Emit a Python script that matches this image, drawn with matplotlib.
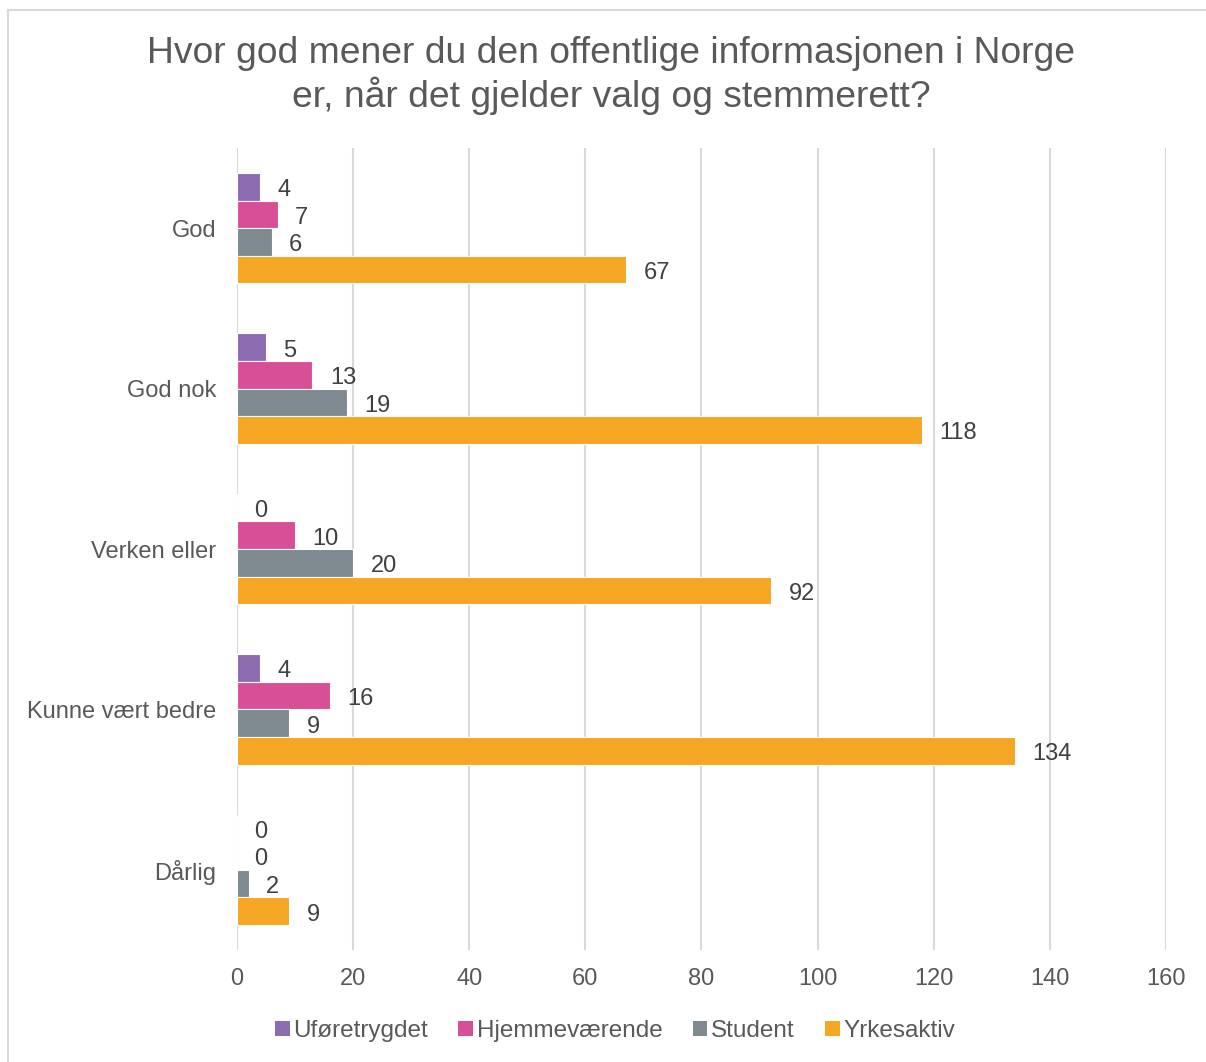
import matplotlib
matplotlib.use("Agg")
import matplotlib.pyplot as plt
from matplotlib.lines import Line2D
from matplotlib.patches import Patch
import numpy as np

plt.rcParams['font.family'] = ['Liberation Sans', 'DejaVu Sans']

categories = ["God", "God nok", "Verken eller", "Kunne vært bedre", "Dårlig"]
series_names = ["Uføretrygdet", "Hjemmeværende", "Student", "Yrkesaktiv"]
uforetrygdet = [4, 5, 0, 4, 0]
hjemmevaerende = [7, 13, 10, 16, 0]
student = [6, 19, 20, 9, 2]
yrkesaktiv = [67, 118, 92, 134, 9]
colors = ["#8D6BB0", "#D94F97", "#7E8A90", "#F5A623"]
xticks = [0, 20, 40, 60, 80, 100, 120, 140, 160]

series = [uforetrygdet, hjemmevaerende, student, yrkesaktiv]

fig = plt.figure(figsize=(12.06, 10.62), dpi=100)
ax = fig.add_axes([0.1965, 0.1055, 0.7703, 0.7551])

n = len(categories)
bar_h = 0.172
ypos = np.arange(n)
for i, (vals, col, name) in enumerate(zip(series, colors, series_names)):
    offs = (i - 1.5) * bar_h
    bars = ax.barh(ypos + offs, vals, height=bar_h, color=col, edgecolor='white',
                   linewidth=0.8, label=name, zorder=3)
    for b, v in zip(bars, vals):
        ax.annotate(str(v), xy=(v, b.get_y() + b.get_height() / 2),
                    xytext=(12.5, -2.5), textcoords='offset points',
                    va='center', ha='left', fontsize=17, color='#404040')

ax.set_ylim(n - 0.5, -0.5)
ax.set_xlim(0, 160)
ax.set_xticks(xticks)
ax.set_yticks(ypos)
ax.set_yticklabels(categories)
ax.tick_params(axis='both', length=0, labelsize=17, labelcolor='#595959')
ax.tick_params(axis='x', pad=13)
ax.tick_params(axis='y', pad=15)
ax.grid(axis='x', color='#D9D9D9', linewidth=1.5, zorder=0)
for s in ax.spines.values():
    s.set_visible(False)

fig.text(0.507, 0.929, "Hvor god mener du den offentlige informasjonen i Norge\ner, når det gjelder valg og stemmerett?",
         ha='center', va='center', fontsize=26.8, color='#595959', linespacing=1.2)

handles = [Patch(facecolor=c, edgecolor='none') for c in colors]
fig.legend(handles, series_names, loc='center', bbox_to_anchor=(0.51, 0.029), ncol=4,
           frameon=False, fontsize=17.5, labelcolor='#595959', handlelength=0.6,
           handleheight=0.6, handletextpad=0.15, columnspacing=1.25)

# figure border (top and left visible)
fig.add_artist(Line2D([0.0065, 1.0], [1 - 10 / 1062, 1 - 10 / 1062], color='#D9D9D9', linewidth=1.5,
                      transform=fig.transFigure))
fig.add_artist(Line2D([0.0065, 0.0065], [0.0, 1 - 10 / 1062], color='#D9D9D9', linewidth=1.5,
                      transform=fig.transFigure))

fig.savefig("out.png", dpi=100)
